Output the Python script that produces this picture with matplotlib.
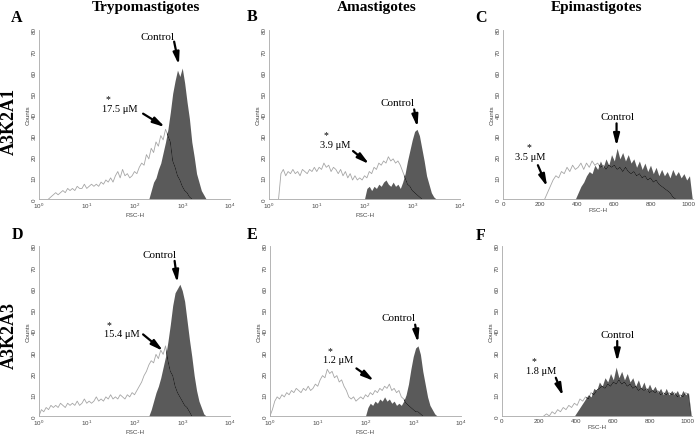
import numpy as np
import matplotlib
matplotlib.use("Agg")
import matplotlib.pyplot as plt
from matplotlib.ticker import NullLocator

plt.rcParams["font.family"] = "Liberation Serif"

W, H = 696, 435

# ── channels (FSC-H) ─────────────────────────────────────────────
log_channels = 10 ** np.linspace(0, 4, 81)     # log panels, 0.05 decade per channel
lin_channels = np.arange(0, 1021, 15)          # linear panels

# ── A : A3K2A1 / Trypomastigotes ─────────────────────────────────
tryp_a1_treated = [0, 0, 0, 0, 0, 1, 2, 3, 2, 3,
                   4, 3, 5, 4, 5, 4, 6, 5, 5, 7,
                   5, 6, 7, 6, 7, 6, 8, 7, 9, 8,
                   10, 8, 11, 13, 10, 14, 11, 12, 10, 11,
                   13, 12, 15, 17, 16, 21, 19, 24, 22, 27,
                   25, 30, 28, 33, 30, 27, 18, 15, 11, 9,
                   6, 4, 3, 1, 0, 0, 0, 0, 0, 0,
                   0, 0, 0, 0, 0, 0, 0, 0, 0, 0, 0]
tryp_a1_control = [0] * 40 + [0, 0, 0, 0, 0, 0, 0, 4, 8, 10,
                              14, 17, 22, 27, 33, 41, 50, 56, 61, 58,
                              62, 55, 46, 38, 27, 20, 12, 8, 4, 2] + [0] * 11

# ── B : A3K2A1 / Amastigotes ─────────────────────────────────────
ama_a1_treated = [0, 0, 0, 0, 0, 12, 14, 11, 13, 12,
                  14, 12, 13, 11, 14, 13, 12, 14, 13, 15,
                  13, 15, 14, 17, 15, 16, 13, 15, 14, 12,
                  14, 11, 13, 10, 12, 9, 11, 9, 10, 9,
                  11, 10, 13, 12, 15, 14, 17, 16, 18, 17,
                  20, 18, 19, 17, 18, 16, 13, 10, 7, 6,
                  4, 3, 2, 1, 0, 0, 0, 0, 0, 0] + [0] * 11
ama_a1_control = [0] * 40 + [0, 5, 6, 4, 6, 5, 7, 6, 8, 9,
                             7, 6, 8, 6, 7, 5, 8, 12, 18, 23,
                             28, 32, 33, 30, 24, 18, 11, 7, 3, 1] + [0] * 11

# ── C : A3K2A1 / Epimastigotes ───────────────────────────────────
epi_a1_treated = [0] * 10 + [0, 0, 0, 0, 0, 0, 3, 6, 9, 11,
                             10, 13, 12, 15, 13, 16, 14, 15, 17, 14,
                             17, 15, 18, 16, 17, 15, 16, 14, 16, 15,
                             16, 14, 15, 13, 15, 13, 12, 13, 11, 12,
                             10, 11, 9, 10, 8, 9, 7, 6, 5, 4,
                             3, 1, 0, 0, 0, 0, 0, 0, 0]
epi_a1_control = [0] * 20 + [0, 0, 0, 0, 0, 0, 0, 3, 6, 8,
                             11, 13, 12, 16, 14, 18, 15, 19, 16, 21,
                             18, 24, 19, 22, 18, 21, 17, 19, 15, 18,
                             14, 17, 13, 16, 12, 15, 11, 14, 11, 13,
                             10, 14, 11, 13, 10, 12, 9, 11, 0]

# ── D : A3K2A3 / Trypomastigotes ─────────────────────────────────
tryp_a3_treated = [0, 3, 2, 4, 3, 5, 4, 5, 4, 6,
                   5, 4, 6, 5, 6, 5, 7, 5, 6, 8,
                   6, 7, 6, 7, 9, 7, 8, 7, 9, 8,
                   10, 8, 9, 8, 10, 9, 8, 10, 9, 11,
                   10, 12, 14, 16, 19, 21, 24, 26, 25, 29,
                   27, 31, 29, 33, 26, 21, 19, 14, 11, 9,
                   7, 5, 4, 2, 0, 0, 0, 0, 0, 0] + [0] * 11
tryp_a3_control = [0] * 40 + [0, 0, 0, 0, 0, 0, 0, 3, 7, 11,
                              14, 18, 23, 28, 35, 43, 52, 58, 60, 62,
                              59, 54, 45, 36, 28, 19, 12, 7, 4, 1] + [0] * 11

# ── E : A3K2A3 / Amastigotes ─────────────────────────────────────
ama_a3_treated = [0, 3, 7, 9, 8, 10, 9, 11, 10, 12,
                  11, 13, 12, 11, 13, 12, 14, 12, 13, 15,
                  14, 17, 19, 18, 22, 20, 21, 18, 19, 16,
                  17, 14, 12, 9, 8, 9, 7, 8, 9, 8,
                  10, 9, 11, 10, 12, 11, 13, 12, 14, 13,
                  15, 12, 13, 11, 12, 9, 8, 6, 5, 4,
                  3, 2, 2, 1, 0, 0, 0, 0, 0, 0] + [0] * 11
ama_a3_control = [0] * 40 + [0, 4, 6, 5, 7, 6, 8, 7, 9, 7,
                             8, 6, 7, 5, 6, 5, 7, 10, 15, 22,
                             28, 32, 33, 29, 21, 15, 9, 5, 3, 1] + [0] * 11

# ── F : A3K2A3 / Epimastigotes ───────────────────────────────────
epi_a3_treated = [0] * 10 + [0, 0, 0, 0, 0, 0, 1, 0, 2, 1,
                             3, 2, 4, 3, 5, 4, 6, 5, 8, 7,
                             9, 8, 11, 10, 12, 13, 14, 13, 15, 14,
                             16, 15, 17, 15, 16, 14, 15, 13, 14, 12,
                             13, 12, 13, 11, 12, 11, 12, 10, 11, 10,
                             11, 10, 11, 9, 10, 9, 11, 10, 0]
epi_a3_control = [0] * 20 + [0, 0, 0, 0, 0, 0, 0, 2, 4, 6,
                             8, 10, 9, 13, 12, 16, 14, 18, 16, 20,
                             17, 23, 18, 21, 17, 20, 16, 18, 14, 17,
                             13, 16, 12, 15, 12, 14, 11, 13, 10, 13,
                             10, 12, 10, 12, 9, 12, 10, 11, 0]

doses = ["17.5 μM", "3.9 μM", "3.5 μM", "15.4 μM", "1.2 μM", "1.8 μM"]
panel_letters = ["A", "B", "C", "D", "E", "F"]
stages = ["Trypomastigotes", "Amastigotes", "Epimastigotes"]
compounds = ["A3K2A1", "A3K2A3"]

FILL = "#5a5a5a"
LINE = "#a6a6a6"
AXC = "#a8a8a8"

# panel boxes in pixels: left, top, right, bottom
boxes = [(39, 31, 230, 200), (269, 31, 460, 200), (503, 31, 693, 200),
         (39, 247, 230, 417), (270, 247, 461, 417), (502, 247, 692, 417)]

# annotation placement: control text, control arrow (tail, tip),
# dose text, star, dose arrow (tail, tip)
L = lambda v: 10 ** v
annots = [
    ((L(2.49), 77), (L(2.83), 74.5), (L(2.93), 63.5), (L(1.70), 43), (L(1.45), 47.5), (L(2.18), 40.4), (L(2.64), 34)),
    ((L(2.70), 45.5), (L(3.04), 42.4), (L(3.11), 34), (L(1.38), 25.9), (L(1.19), 30.6), (L(1.76), 22.7), (L(2.10), 16.5)),
    ((615, 39), (612, 35.8), (612, 25), (144, 20.3), (140, 25), (188, 16), (238, 5.8)),
    ((L(2.53), 76), (L(2.84), 73), (L(2.90), 62.7), (L(1.73), 39), (L(1.46), 43), (L(2.18), 38.4), (L(2.60), 30.6)),
    ((L(2.70), 46.3), (L(3.04), 43), (L(3.10), 34.5), (L(1.43), 26.4), (L(1.25), 31), (L(1.81), 22.4), (L(2.18), 16.5)),
    ((623, 38.4), (621, 35.3), (621, 25.6), (213, 21.2), (174, 25.9), (290, 18), (329, 9.4)),
]

panels = [
    (tryp_a1_treated, tryp_a1_control, True),
    (ama_a1_treated, ama_a1_control, True),
    (epi_a1_treated, epi_a1_control, False),
    (tryp_a3_treated, tryp_a3_control, True),
    (ama_a3_treated, ama_a3_control, True),
    (epi_a3_treated, epi_a3_control, False),
]

fig = plt.figure(figsize=(W / 100, H / 100), dpi=100)
arrow = dict(arrowstyle="-|>,head_length=0.7,head_width=0.18", lw=1.6,
             color="black", shrinkA=0, shrinkB=0)

for k, (treated, control, logx) in enumerate(panels):
    l, t, r, b = boxes[k]
    ax = fig.add_axes([l / W, 1 - b / H, (r - l) / W, (b - t) / H])
    x = log_channels if logx else lin_channels
    treated = np.array(treated, dtype=float)
    control = np.array(control, dtype=float)

    poly = ax.fill_between(x, 0, control, color=FILL, lw=0, zorder=2)
    nz = np.nonzero(treated)[0]
    lo, hi = max(nz[0] - 1, 0), min(nz[-1] + 2, len(x))
    ax.plot(x[lo:hi], treated[lo:hi], color=LINE, lw=0.6, zorder=3)
    dark, = ax.plot(x[lo:hi], treated[lo:hi], color="#151515", lw=0.6, zorder=4)
    dark.set_clip_path(poly.get_paths()[0], ax.transData)

    if logx:
        ax.set_xscale("log")
        ax.set_xlim(1, 1e4)
        ax.set_xticks([1, 10, 100, 1000, 10000])
        ax.xaxis.set_minor_locator(NullLocator())
    else:
        ax.set_xlim(0, 1024)
        ax.set_xticks([0, 200, 400, 600, 800, 1000])
    ax.set_ylim(0, 80)
    ax.set_yticks(range(0, 81, 10))

    for s in ["top", "right"]:
        ax.spines[s].set_visible(False)
    for s in ["left", "bottom"]:
        ax.spines[s].set_color(AXC)
        ax.spines[s].set_linewidth(0.6)
    ax.tick_params(length=0, pad=1.5, labelsize=4.5, labelcolor="#444444")
    ax.tick_params(axis="y", labelrotation=90, pad=1.5)
    for lab in ax.get_xticklabels() + ax.get_yticklabels():
        lab.set_family("Liberation Sans")
    for lab in ax.get_yticklabels():
        lab.set_verticalalignment("center")
    ax.set_ylabel("Counts", fontsize=4.5, family="Liberation Sans", color="#444444", labelpad=1)
    ax.set_xlabel("FSC-H", fontsize=4.5, family="Liberation Sans", color="#444444", labelpad=1)

    ctext, ctail, ctip, dtext, star, dtail, dtip = annots[k]
    ax.text(*ctext, "Control", fontsize=8, ha="center", va="center", zorder=6)
    ax.annotate("", xy=ctip, xytext=ctail, arrowprops=arrow, zorder=6)
    ax.text(*dtext, doses[k], fontsize=7.5, ha="center", va="center", zorder=6)
    ax.text(*star, "*", fontsize=7, ha="center", va="center", zorder=6)
    ax.annotate("", xy=dtip, xytext=dtail, arrowprops=arrow, zorder=6)

# panel letters
letter_pos = [(17, 18), (252, 17), (481, 18), (17, 235), (252, 235), (481, 236)]
for letter, (px, py) in zip(panel_letters, letter_pos):
    fig.text(px / W, 1 - py / H, letter, fontsize=11.5, fontweight="bold",
             ha="center", va="center")

# column titles
for stage, px in zip(stages, [146, 377, 597]):
    fig.text(px / W, 1 - 7 / H, stage, fontsize=11, fontweight="bold",
             ha="center", va="center")

# row labels
for comp, py in zip(compounds, [122, 336]):
    fig.text(9 / W, 1 - py / H, comp, fontsize=13, fontweight="bold",
             rotation=90, ha="center", va="center")

fig.savefig("out.png", dpi=100)
